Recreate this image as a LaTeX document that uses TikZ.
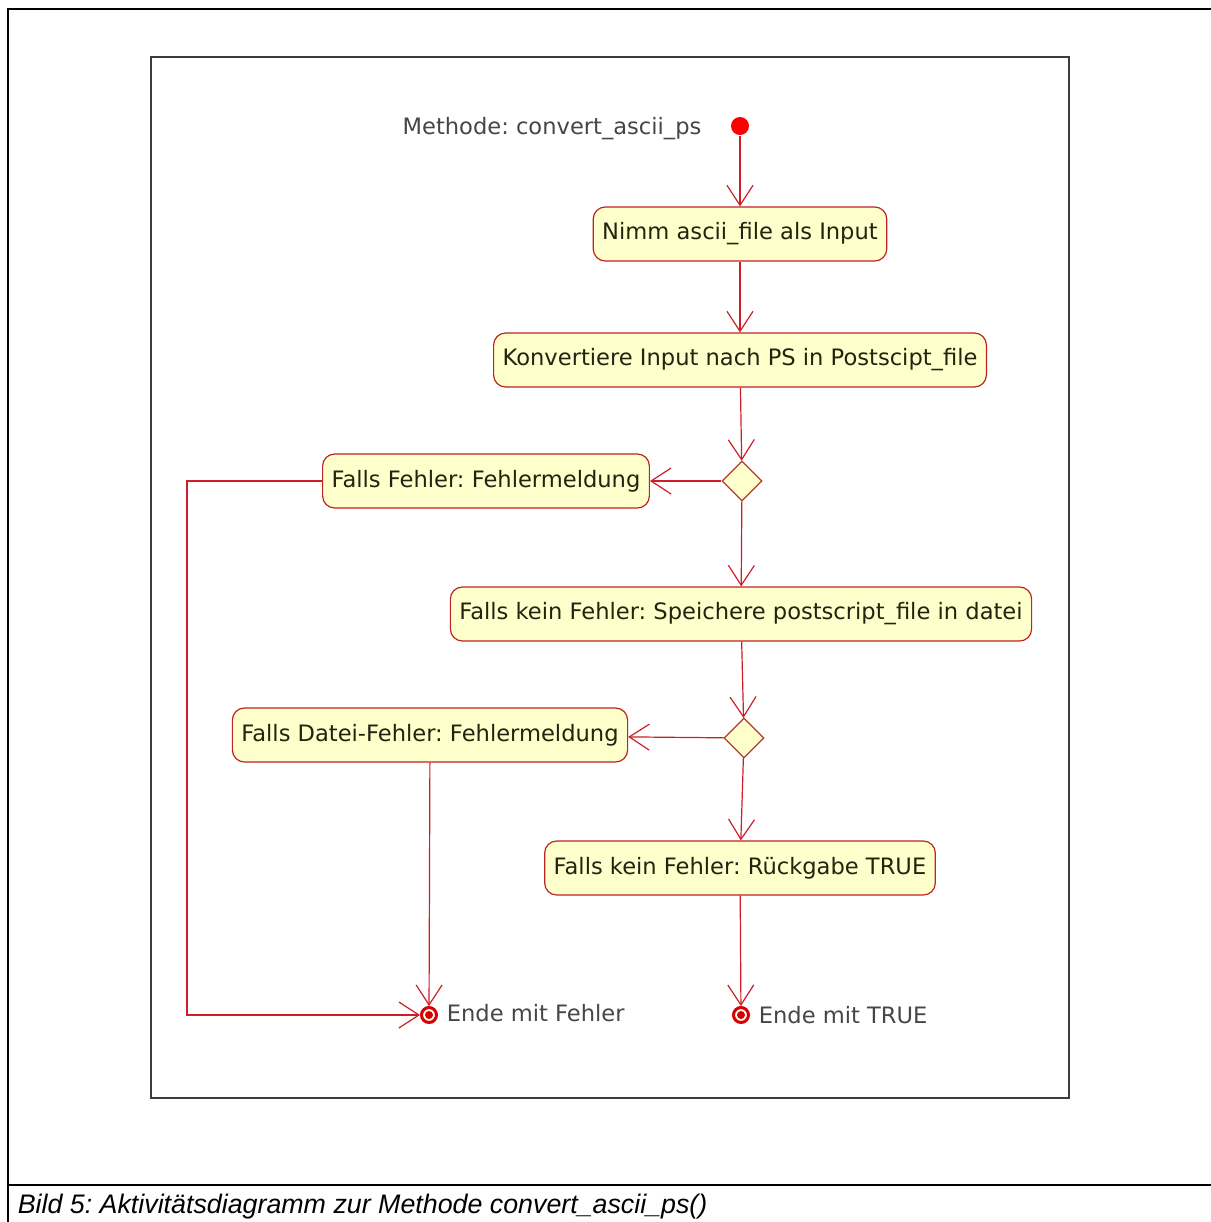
\documentclass[tikz,border=0pt]{standalone}
\usepackage{fontspec}
\setmainfont{DejaVu Sans}
\newfontfamily\captionfont{Liberation Sans}
\usetikzlibrary{shapes.geometric,arrows.meta,positioning}

\definecolor{linered}{RGB}{205,30,40}
\definecolor{boxred}{RGB}{190,35,35}
\definecolor{boxfill}{RGB}{255,255,204}
\definecolor{diamondred}{RGB}{175,60,50}
\definecolor{boxtext}{RGB}{35,35,15}
\definecolor{labelgray}{RGB}{70,70,70}
\definecolor{framegray}{RGB}{60,60,60}

\begin{document}
\frenchspacing
\begin{tikzpicture}[x=0.5pt,y=-0.5pt,thick]

	\tikzset{
		activity/.style={shape=rectangle,rounded corners=6pt,draw=boxred,line width=0.6pt,
			fill=boxfill,text=boxtext,minimum height=27pt,inner xsep=4.5pt,
			font=\fontsize{11.3pt}{13pt}\selectfont},
		decision/.style={shape=diamond,draw=diamondred,line width=0.6pt,fill=boxfill,
			minimum width=20pt,minimum height=20pt,inner sep=0pt},
		startstate/.style={shape=circle,fill=red,minimum size=9pt,inner sep=0pt},
		endstate/.style={shape=circle,draw=red!85!black,line width=1.5pt,fill=white,
			minimum size=7.5pt,inner sep=0pt,
			path picture={\fill[red!85!black] (path picture bounding box.center) circle (2pt);}},
		statelabel/.style={text=labelgray,inner sep=0pt,font=\fontsize{11.3pt}{13pt}\selectfont},
		flow/.style={draw=linered,line width=0.6pt,-{Straight Barb[length=10pt,width=13pt]}}
	}

	\useasboundingbox (0,0) rectangle (1211,1222);

	% Rahmen
	\draw[line width=0.8pt] (1211,9) -- (8,9) -- (8,1222);
	\draw[line width=0.8pt] (8,1185) -- (1211,1185);
	\draw[framegray,line width=1.2pt] (151,57) rectangle (1069,1098);
	\node[anchor=west,inner sep=0pt,font=\captionfont\itshape\fontsize{13.4pt}{15pt}\selectfont]
		(caption) at (17,1207) {Bild 5: Aktivitätsdiagramm zur Methode convert\_ascii\_ps()};

	% Zustaende
	\node[startstate] (start) at (740,126) {};
	\node[statelabel] (methode) [left=14pt of start, yshift=-1.5pt] {Methode: convert\_ascii\_ps};

	\node[activity] (nimm) at (740,234) {Nimm ascii\_file als Input};
	\node[activity] (konv) at (740,360) {Konvertiere Input nach PS in Postscipt\_file};
	\node[decision] (dec1) at (742,481) {};
	\node[activity] (fehler) at (486,481) {Falls Fehler: Fehlermeldung};
	\node[activity] (speichere) at (741,614) {Falls kein Fehler: Speichere postscript\_file in datei};
	\node[decision] (dec2) at (744,738) {};
	\node[activity] (dateifehler) at (430,735) {Falls Datei-Fehler: Fehlermeldung};
	\node[activity] (rueckgabe) at (740,868) {Falls kein Fehler: Rückgabe TRUE};

	\node[endstate] (endfehler) at (429,1015) {};
	\node[statelabel] (endfehlerlabel) [right=4pt of endfehler, yshift=1pt] {Ende mit Fehler};
	\node[endstate] (endtrue) at (741,1015) {};
	\node[statelabel] (endtruelabel) [right=4pt of endtrue] {Ende mit TRUE};

	% Uebergaenge
	\path[flow] (start) -- (nimm);
	\path[flow] (nimm) -- (konv);
	\path[flow] (konv) -- (dec1);
	\path[flow] (dec1) -- (fehler);
	\path[flow] (dec1) -- (speichere);
	\path[flow] (speichere) -- (dec2);
	\path[flow] (dec2) -- (dateifehler);
	\path[flow] (dec2) -- (rueckgabe);
	\path[flow] (rueckgabe) -- (endtrue);
	\path[flow] (dateifehler) -- (endfehler);
	\path[flow] (fehler.west) -- ++(-135,0) |- (endfehler.west);

\end{tikzpicture}
\end{document}
